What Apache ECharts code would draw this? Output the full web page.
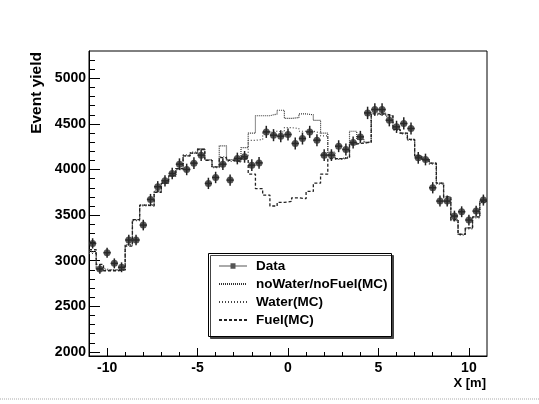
<!DOCTYPE html>
<html>
<head>
<meta charset="utf-8">
<script src="https://cdn.jsdelivr.net/npm/echarts@6/dist/echarts.min.js"></script>
<style>
  html, body { margin: 0; padding: 0; background: #fff; }
  #chart { width: 539px; height: 404px; }
</style>
</head>
<body>
<div id="chart"></div>
<script>
// ---- data ----
const binCenters = [-10.8,-10.4,-10.0,-9.6,-9.2,-8.8,-8.4,-8.0,-7.6,-7.2,-6.8,-6.4,-6.0,-5.6,-5.2,-4.8,-4.4,-4.0,-3.6,-3.2,-2.8,-2.4,
  -2.0,-1.6,-1.2,-0.8,-0.4,0.0,0.4,0.8,1.2,1.6,2.0,
  2.4,2.8,3.2,3.6,4.0,4.4,4.8,5.2,5.6,6.0,6.4,6.8,7.2,7.6,8.0,8.4,8.8,9.2,9.6,10.0,10.4,10.8];
const binHalfWidth = 0.2;

const dataYield = [3190,2910,3088,2971,2928,3227,3227,3391,3672,3811,3876,3957,4059,4001,4070,4158,3848,3913,4059,3884,4121,4139,
  4048,4073,4413,4377,4366,4384,4286,4340,4413,4322,4158,
  4158,4256,4220,4297,4358,4621,4658,4658,4541,4468,4505,4450,4128,4110,3800,3654,3654,3490,3537,3446,3544,3665];

const mcNoWater = [3100,2900,2900,2900,2900,3170,3450,3610,3610,3760,3850,3930,4010,4150,4180,4230,4110,4030,4260,4110,4090,4240,
  4400,4590,4590,4610,4650,4560,4570,4610,4600,4540,4400,
  4190,4120,4140,4420,4330,4300,4620,4620,4590,4440,4400,4330,4150,4110,4070,3850,3700,3450,3290,3360,3480,3650];

const mcWater = [3080,2920,2900,2900,2900,3180,3440,3600,3620,3770,3860,3940,4000,4160,4190,4220,4100,4020,4140,4090,4080,4140,
  4320,4330,4410,4420,4410,4460,4450,4420,4420,4400,4370,
  4160,4110,4130,4290,4290,4300,4600,4610,4580,4430,4390,4320,4140,4100,4060,3840,3690,3440,3280,3350,3470,3640];

const mcFuel = [3120,2960,2890,2890,2900,3160,3450,3610,3600,3750,3850,3930,4010,4150,4180,4220,4100,4030,4130,4100,4090,4120,
  3950,3790,3720,3600,3640,3650,3690,3680,3760,3850,3950,
  4120,4120,4130,4280,4290,4300,4610,4610,4590,4440,4400,4330,4150,4110,4070,3850,3700,3450,3290,3360,3480,3650];

const xMajorTicks = [-10, -5, 0, 5, 10];
const xMinorTicks = [-10,-9,-8,-7,-6,-5,-4,-3,-2,-1,0,1,2,3,4,5,6,7,8,9,10];
const yMajorTicks = [2000, 2500, 3000, 3500, 4000, 4500, 5000];
const yMinorTicks = [2000,2100,2200,2300,2400,2500,2600,2700,2800,2900,3000,3100,3200,3300,3400,3500,3600,3700,3800,3900,
  4000,4100,4200,4300,4400,4500,4600,4700,4800,4900,5000,5100,5200];

// ---- helpers ----
function histPoints(values) {
  const pts = values.map((v, i) => [binCenters[i] - binHalfWidth, v]);
  const last = values.length - 1;
  pts.push([binCenters[last] + binHalfWidth, values[last]]);
  return pts;
}
const dataPoints = dataYield.map((v, i) => [binCenters[i], v]);

const FONT = 'Liberation Sans, Arial, Helvetica, sans-serif';
const chart = echarts.init(document.getElementById('chart'), null, { renderer: 'canvas' });

const dataIcon = 'path://M0,4.4L28,4.4L28,5.6L0,5.6Z M11.5,2.2L16.5,2.2L16.5,7.8L11.5,7.8Z';
const plainNum = v => String(v);

chart.setOption({
  animation: false,
  backgroundColor: '#ffffff',
  grid: { left: 89, right: 52, top: 51, bottom: 48, show: true, borderColor: '#000', borderWidth: 1, backgroundColor: 'transparent' },
  xAxis: [
    {
      type: 'value', min: -11, max: 11, position: 'bottom',
      axisLine: { show: true, onZero: false, lineStyle: { color: '#000', width: 1 } },
      axisTick: { show: true, inside: true, length: 8, customValues: xMajorTicks, lineStyle: { color: '#000' } },
      axisLabel: { show: true, customValues: xMajorTicks, formatter: plainNum, margin: 5, color: '#000', fontFamily: FONT, fontWeight: 'bold', fontSize: 14 },
      splitLine: { show: false }
    },
    {
      type: 'value', min: -11, max: 11, position: 'bottom',
      axisLine: { show: false, onZero: false },
      axisTick: { show: true, inside: true, length: 4, customValues: xMinorTicks, lineStyle: { color: '#000' } },
      axisLabel: { show: false },
      splitLine: { show: false }
    }
  ],
  yAxis: [
    {
      type: 'value', min: 1955, max: 5300, position: 'left',
      axisLine: { show: true, onZero: false, lineStyle: { color: '#000', width: 1 } },
      axisTick: { show: true, inside: true, length: 11, customValues: yMajorTicks, lineStyle: { color: '#000' } },
      axisLabel: { show: true, customValues: yMajorTicks, formatter: plainNum, margin: 3, color: '#000', fontFamily: FONT, fontWeight: 'bold', fontSize: 14 },
      splitLine: { show: false }
    },
    {
      type: 'value', min: 1955, max: 5300, position: 'left',
      axisLine: { show: false, onZero: false },
      axisTick: { show: true, inside: true, length: 6, customValues: yMinorTicks, lineStyle: { color: '#000' } },
      axisLabel: { show: false },
      splitLine: { show: false }
    }
  ],
  legend: {
    orient: 'vertical', left: 213, top: 254, z: 10,
    itemWidth: 28, itemHeight: 12, itemGap: 4,
    textStyle: { color: '#000', fontFamily: FONT, fontWeight: 'bold', fontSize: 13.5, padding: [0, 0, 0, 4] },
    data: [
      { name: 'Data', icon: dataIcon },
      { name: 'noWater/noFuel(MC)', itemStyle: { opacity: 0 } },
      { name: 'Water(MC)', itemStyle: { opacity: 0 } },
      { name: 'Fuel(MC)', itemStyle: { opacity: 0 } }
    ]
  },
  graphic: [
    {
      type: 'rect', z: 5, shape: { x: 208.5, y: 253.5, width: 183, height: 83 },
      style: { fill: '#fff', stroke: '#000', lineWidth: 1, shadowColor: '#444', shadowOffsetX: 2, shadowOffsetY: 2, shadowBlur: 0 }
    },
    {
      type: 'text', x: 37, y: 52, rotation: Math.PI / 2,
      style: { text: 'Event yield', fill: '#000', font: 'bold 15.5px ' + FONT, align: 'right', verticalAlign: 'middle' }
    },
    {
      type: 'text', x: 486, y: 383,
      style: { text: 'X [m]', fill: '#000', font: 'bold 13px ' + FONT, align: 'right', verticalAlign: 'middle' }
    },
    {
      type: 'line', shape: { x1: 0, y1: 399, x2: 539, y2: 399 },
      style: { stroke: '#aaa', lineWidth: 1, lineDash: [1, 1] }
    }
  ],
  series: [
    {
      name: 'noWater/noFuel(MC)', type: 'line', step: 'end', xAxisIndex: 0, yAxisIndex: 0,
      data: histPoints(mcNoWater), symbol: 'none', z: 3,
      itemStyle: { color: '#333' },
      lineStyle: { color: '#333', width: 1.2, type: [1, 1] }
    },
    {
      name: 'Water(MC)', type: 'line', step: 'end', xAxisIndex: 0, yAxisIndex: 0,
      data: histPoints(mcWater), symbol: 'none', z: 3,
      itemStyle: { color: '#444' },
      lineStyle: { color: '#444', width: 1.2, type: [1, 2] }
    },
    {
      name: 'Fuel(MC)', type: 'line', step: 'end', xAxisIndex: 0, yAxisIndex: 0,
      data: histPoints(mcFuel), symbol: 'none', z: 3,
      itemStyle: { color: '#222' },
      lineStyle: { color: '#222', width: 1.3, type: [3, 2] }
    },
    {
      name: 'DataErr', type: 'custom', xAxisIndex: 0, yAxisIndex: 0, z: 4,
      data: dataPoints,
      renderItem: function (params, api) {
        const x = api.value(0), v = api.value(1);
        const e = Math.sqrt(v);
        const top = api.coord([x, v + e]);
        const bot = api.coord([x, v - e]);
        const l = api.coord([x - binHalfWidth, v]);
        const r = api.coord([x + binHalfWidth, v]);
        return {
          type: 'group',
          children: [
            { type: 'line', shape: { x1: top[0], y1: top[1], x2: bot[0], y2: bot[1] }, style: { stroke: '#222', lineWidth: 1.5 } },
            { type: 'line', shape: { x1: l[0], y1: l[1], x2: r[0], y2: r[1] }, style: { stroke: '#222', lineWidth: 1.5 } }
          ]
        };
      }
    },
    {
      name: 'Data', type: 'scatter', xAxisIndex: 0, yAxisIndex: 0, z: 5,
      data: dataPoints, symbol: 'circle', symbolSize: 7,
      itemStyle: { color: '#2a2a2a' }
    }
  ]
});
</script>
</body>
</html>
